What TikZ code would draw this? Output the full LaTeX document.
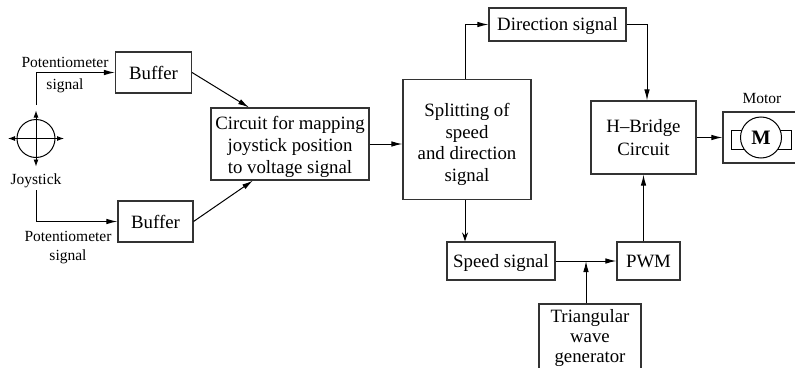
\documentclass[tikz,border=0pt]{standalone}
\usepackage{fontspec}
\setmainfont{Liberation Serif}
\usetikzlibrary{arrows.meta,calc}
\newcommand{\lift}[1]{\rule{0pt}{#1pt}}
\tikzstyle{block} = [rectangle, draw=black!80, line width=1.1pt, align=center, inner sep=0pt,
    font=\fontsize{18.8}{21.7}\selectfont]
\tikzstyle{lbl} = [align=center, inner sep=0pt, font=\fontsize{15.5}{18}\selectfont]
\tikzstyle{line} = [draw, line width=1pt, -{Latex[length=11pt,width=5.5pt]}]
\tikzstyle{thinline} = [draw, line width=.9pt, -{Stealth[length=9pt,width=6pt,inset=3pt]}]
\tikzstyle{crossline} = [draw, line width=.9pt, {Latex[length=7pt,width=5pt]}-{Latex[length=7pt,width=5pt]}]

\begin{document}
\begin{tikzpicture}[node distance = 100pt, x=1pt, y=1pt]
    \clip [use as bounding box] (-36,138.5) rectangle (759,-228.5);
    % Place nodes
    \node [circle, draw, line width=1pt, minimum size=38pt, inner sep=0pt] (j_stick) {};
    \node [block, right of=j_stick, node distance=117.5pt, yshift=66pt, minimum width=76pt, minimum height=41pt] (b_up) {Buffer};
    \node [block, right of=j_stick, node distance=119.5pt, yshift=-83pt, minimum width=75pt, minimum height=41pt] (b_low) {Buffer};
    \node [block, right of=j_stick, node distance=254pt, yshift=-5.5pt, minimum width=158pt, minimum height=72pt] (c_map) {\lift{19}Circuit for mapping\\joystick position\\to voltage signal};
    \node [block, right of=c_map, node distance=177pt, yshift=4.5pt, minimum width=128pt, minimum height=120pt] (s_split) {\lift{23}Splitting of\\speed\\and direction\\signal};
    \node [block, above of=s_split, node distance=115pt, xshift=90.5pt, minimum width=137pt, minimum height=33pt] (s_dir) {\lift{16.5}Direction signal};
    \node [block, below of=s_split, node distance=121.5pt, xshift=34pt, minimum width=108pt, minimum height=38pt] (s_speed) {\lift{16.5}Speed signal};
    \node [block, right of=s_speed, node distance=147.5pt, minimum width=63pt, minimum height=38pt] (pwm) {PWM};
    \node [block, below of=pwm, node distance=76pt, xshift=-58.5pt, minimum width=102pt, minimum height=66pt, font=\fontsize{18.8}{20}\selectfont] (tri_gen) {\lift{15}Triangular\\wave\\generator};
    \node [block, above of=pwm, node distance=123.5pt, xshift=-5pt, minimum width=105pt, minimum height=73pt, font=\fontsize{18.8}{23}\selectfont] (h_bridge) {H--Bridge\\Circuit};
    \node [block, right of=h_bridge, node distance=118.5pt, minimum width=78pt, minimum height=51pt] (m_box) {};
    \node [rectangle, draw, line width=1pt, right of=h_bridge, node distance=117.5pt, yshift=-2pt, minimum width=60pt, minimum height=19pt] (m_rect) {};
    \node [circle, draw, line width=1pt, fill=white, right of=h_bridge, node distance=117.5pt, minimum size=41pt, inner sep=0pt, font=\fontsize{20.5}{22}\selectfont\bfseries] (m_circ) {M};
    % Place labels
    \node [lbl, right of=j_stick, node distance=29pt, yshift=63.5pt] (l_up) {Potentiometer\\[4pt]signal};
    \node [lbl, right of=j_stick, node distance=32pt, yshift=-109pt] (l_low) {Potentiometer\\[1pt]signal};
    \node [lbl, below of=j_stick, node distance=42.5pt] (l_joy) {Joystick};
    \node [lbl, above of=m_box, node distance=38.5pt] (l_motor) {Motor};
    % Free ends
    \coordinate [above of=j_stick, node distance=33.5pt] (j_top);
    \coordinate [below of=j_stick, node distance=51.5pt] (j_bot);
    \coordinate [above of=j_stick, node distance=28pt] (j_n);
    \coordinate [below of=j_stick, node distance=28pt] (j_s);
    \coordinate [left of=j_stick, node distance=28pt] (j_w);
    \coordinate [right of=j_stick, node distance=28pt] (j_e);
    \coordinate (sum_pt) at ($(s_speed.east)!.5!(pwm.west)$);
    % Draw edges
    \path [crossline] (j_n) -- (j_s);
    \path [crossline] (j_w) -- (j_e);
    \path [line] (j_top) |- (b_up.west);
    \path [line] (j_bot) |- (b_low.west);
    \path [line] (b_up.east) -- ([xshift=-41pt]c_map.north);
    \path [line] (b_low.east) -- ([xshift=-37pt]c_map.south);
    \path [line] (c_map.east) -- (c_map.east -| s_split.west);
    \path [line] ([xshift=-2pt]s_split.north) |- (s_dir.west);
    \path [thinline] ([xshift=-2pt]s_split.south) -- ([xshift=-2pt]s_split.south |- s_speed.north);
    \path [line] (s_dir.east) -| ([xshift=3.5pt]h_bridge.north);
    \path [line] (s_speed.east) -- (pwm.west);
    \path [line] (sum_pt |- tri_gen.north) -- (sum_pt);
    \path [line] (pwm.north -| h_bridge.south) -- (h_bridge.south);
    \path [line] (h_bridge.east) -- (m_box.west);
\end{tikzpicture}
\end{document}
